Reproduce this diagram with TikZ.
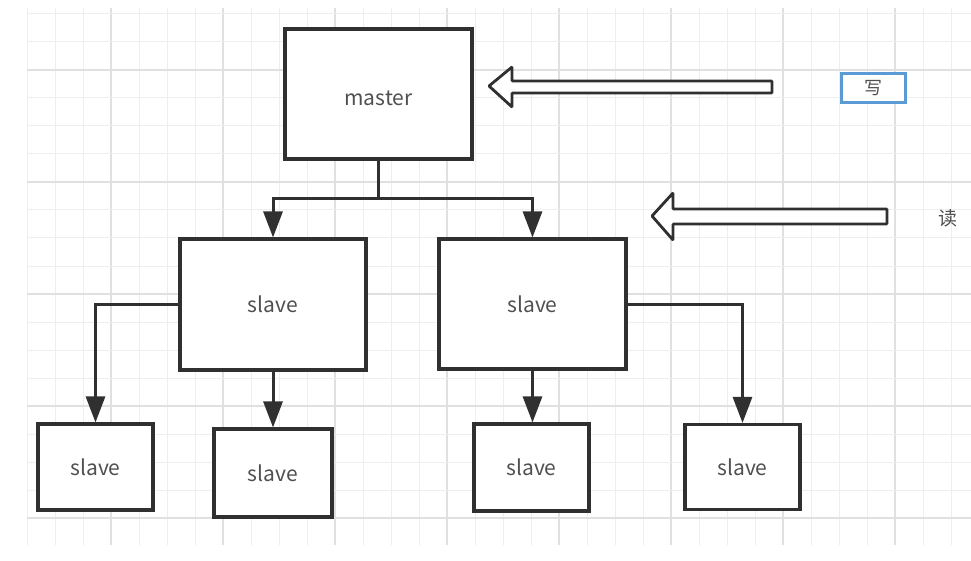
\documentclass[tikz,border=0pt]{standalone}
\usepackage{fontspec}
\setmainfont{Noto Sans CJK SC}
\usetikzlibrary{arrows.meta}
\definecolor{gridminor}{HTML}{EEEEEE}
\definecolor{gridmajor}{HTML}{E0E0E0}
\definecolor{ink}{HTML}{303030}
\definecolor{txt}{HTML}{505050}
\definecolor{blueline}{HTML}{5B9BD5}
\tikzset{
  box/.style={draw=ink, line width=3.1pt, fill=white, rectangle, inner sep=0pt,
    text=txt, font=\fontsize{21}{25}\selectfont},
  conn/.style={draw=ink, line width=3pt, -{Triangle[length=26pt,width=19pt]}},
  link/.style={draw=ink, line width=3pt},
  hollow/.style={draw=ink, line width=2.8pt, fill=white, line join=miter, rounded corners=0.8pt},
}
\begin{document}
\begin{tikzpicture}[x=1pt,y=-1pt]
\useasboundingbox (0,0) rectangle (971,561);
\fill[white] (0,0) rectangle (971,561);
% grid
\begin{scope}
\clip (27,8) rectangle (971,545);
\foreach \k in {0,...,34} {
  \pgfmathsetmacro{\xx}{27+28*\k}
  \pgfmathtruncatemacro{\mm}{mod(\k+1,4)}
  \ifnum\mm=0 \draw[gridmajor, line width=1.3pt] (\xx,8) -- (\xx,545);
  \else \draw[gridminor, line width=1pt] (\xx,8) -- (\xx,545); \fi
}
\foreach \k in {0,...,19} {
  \pgfmathsetmacro{\yy}{14+28*\k}
  \pgfmathtruncatemacro{\mm}{mod(\k+2,4)}
  \ifnum\mm=0 \draw[gridmajor, line width=1.3pt] (27,\yy) -- (971,\yy);
  \else \draw[gridminor, line width=1pt] (27,\yy) -- (971,\yy); \fi
}
\end{scope}
% nodes
\node[box, minimum width=187pt, minimum height=130pt, text height=23pt, text depth=0pt] (m) at (378.5,94) {master};
\node[box, minimum width=186pt, minimum height=131pt] (s1) at (273,304.5) {slave};
\node[box, minimum width=187pt, minimum height=130pt] (s2) at (532.5,304) {slave};
\node[box, minimum width=115pt, minimum height=86pt] (b1) at (95.5,467) {slave};
\node[box, minimum width=118pt, minimum height=88pt] (b2) at (273,473) {slave};
\node[box, minimum width=115pt, minimum height=87pt] (b3) at (531.5,467.5) {slave};
\node[box, minimum width=115pt, minimum height=85pt] (b4) at (742.5,467) {slave};
% connectors
\coordinate (j) at (378.5,199);
\draw[link] (m.south) -- (j);
\draw[conn] (j) -| (s1.north);
\draw[conn] (j) -| (s2.north);
\draw[conn] (s1.west) -| (b1.north);
\draw[conn] (s1.south) -- (b2.north);
\draw[conn] (s2.south) -- (s2.south |- b3.north);
\draw[conn] (s2.east) -| (b4.north);
% hollow arrows
\draw[hollow] (489,86) -- (512,67) -- (512,81) -- (772,81) -- (772,93) -- (512,93) -- (512,107) -- cycle;
\draw[hollow] (652,216) -- (673,193) -- (673,209) -- (887,209) -- (887,224) -- (673,224) -- (673,240) -- cycle;
% labels
\node[draw=blueline, line width=2.6pt, fill=white, minimum width=64pt, minimum height=29pt, inner sep=0pt,
  text=txt, font=\fontsize{18}{20}\selectfont] (w) at (873.5,88) {写};
\node[text=txt, font=\fontsize{19}{22}\selectfont, inner sep=0pt] (r) at (948,218) {读};
\end{tikzpicture}
\end{document}
